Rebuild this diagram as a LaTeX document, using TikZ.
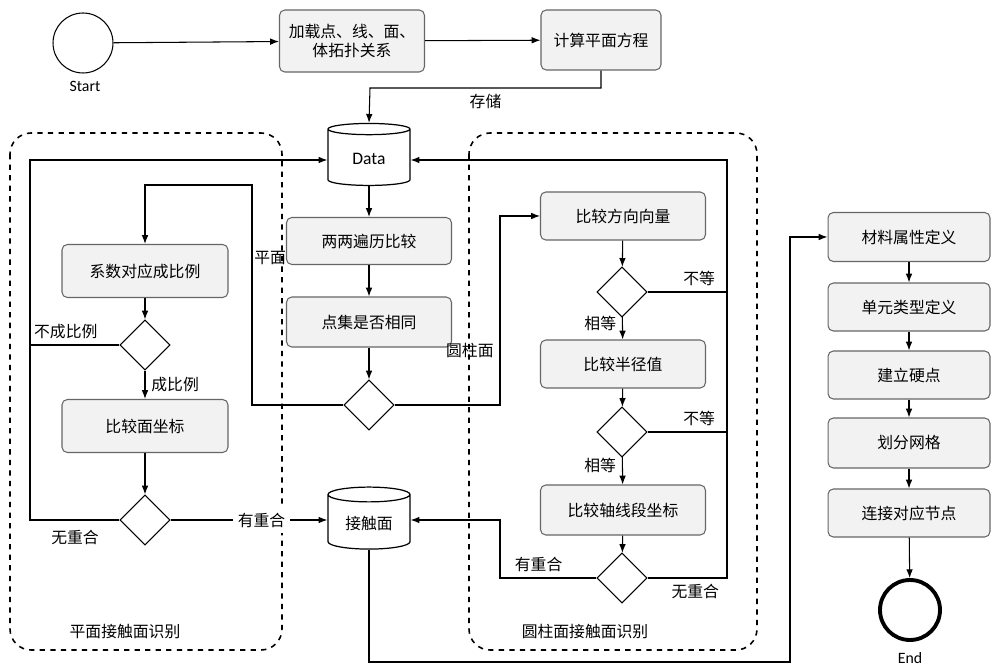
\documentclass[tikz,border=0pt]{standalone}
\usepackage{fontspec}
\setmainfont{Noto Sans CJK SC}
\newfontfamily\latinf{Carlito}
\usetikzlibrary{shapes.geometric,
                arrows.meta
                }

\begin{document}
\begin{tikzpicture}[x=0.02cm,y=-0.02cm,
    font=\fontsize{9}{11}\selectfont,
    box/.style={draw=black!60, fill=black!5, rounded corners=3pt, line width=0.6pt},
    dec/.style={draw, diamond, minimum width=1cm, minimum height=1cm, inner sep=0pt, line width=0.6pt},
    db/.style={draw, cylinder, shape border rotate=90, aspect=0.25, minimum width=1.64cm,
               minimum height=1.24cm, fill=white, line width=0.7pt},
    flow/.style={-{Latex[length=5pt]}, line width=0.6pt},
    grp/.style={draw, dashed, rounded corners=12pt, line width=0.9pt}
    ]
    \useasboundingbox (0,0) rectangle (1000,671);

    % Gruppen
    \draw[grp] (10,133) rectangle (282,650);
    \draw[grp] (469,133) rectangle (757,650);
    \node at (125,632) {平面接触面识别};
    \node at (585,632) {圆柱面接触面识别};

    % Start und Kopf
    \node[draw, circle, minimum size=1.2cm, line width=0.6pt] (start) at (83,43) {};
    \node[font=\latinf\small] at (85,86) {Start};
    \node[box, minimum width=2.9cm, minimum height=1.24cm, align=center] (load) at (352,41)
        {加载点、线、面、\\体拓扑关系};
    \node[box, minimum width=2.4cm, minimum height=1.2cm] (plane) at (601,40) {计算平面方程};

    % Datenbanken
    \node[db, font=\latinf] (data) at (369,159) {Data};
    \node[db] (contact) at (369,524) {接触面};

    % Mitte
    \node[box, minimum width=3.3cm, minimum height=0.94cm] (pair) at (369,241) {两两遍历比较};
    \node[box, minimum width=3.3cm, minimum height=1cm] (same) at (369,322) {点集是否相同};
    \node[dec] (dm) at (369,405) {};

    % links
    \node[box, minimum width=3.32cm, minimum height=1.06cm] (coef) at (145,271) {系数对应成比例};
    \node[dec] (dl1) at (145,345) {};
    \node[box, minimum width=3.32cm, minimum height=1.06cm] (face) at (145,426) {比较面坐标};
    \node[dec] (dl2) at (145,520) {};

    % rechts
    \node[box, minimum width=3.3cm, minimum height=0.96cm] (dir) at (623,216) {比较方向向量};
    \node[dec] (dr1) at (622,292) {};
    \node[box, minimum width=3.3cm, minimum height=0.96cm] (rad) at (623,364) {比较半径值};
    \node[dec] (dr2) at (622,432) {};
    \node[box, minimum width=3.3cm, minimum height=1cm] (axis) at (623,510) {比较轴线段坐标};
    \node[dec] (dr3) at (622,578) {};

    % Nachbearbeitung
    \node[box, minimum width=3.24cm, minimum height=0.98cm] (mat) at (909,237) {材料属性定义};
    \node[box, minimum width=3.24cm, minimum height=0.96cm] (elem) at (909,307) {单元类型定义};
    \node[box, minimum width=3.24cm, minimum height=0.96cm] (hard) at (909,375) {建立硬点};
    \node[box, minimum width=3.24cm, minimum height=1cm] (mesh) at (909,443) {划分网格};
    \node[box, minimum width=3.24cm, minimum height=0.96cm] (conn) at (909,513) {连接对应节点};
    \node[draw, circle, minimum size=1.2cm, line width=2.2pt] (end) at (910,610) {};
    \node[font=\latinf\small] at (910,658) {End};

    % Verbindungen
    \draw[flow] (start) -- (load);
    \draw[flow] (load) -- (plane);
    \draw[flow] (plane.south) |- node[pos=0.75, below] {存储} (370,88) -- (data.north);
    \draw[flow] (data) -- (pair);
    \draw[flow] (pair) -- (same);
    \draw[flow] (same) -- (dm);
    \draw[flow] (dm.west) -- (252,405) -- node[pos=0.67, right, inner sep=1pt] {平面} (252,185) -| (coef.north);
    \draw[flow] (coef) -- (dl1);
    \draw[flow] (dl1) -- node[right] {成比例} (face);
    \draw[flow] (face) -- (dl2);
    \draw[flow] (dl1.west) -- node[above, pos=0.6] {不成比例} (30,345) |- (data.west |- 0,160);
    \draw[line width=0.6pt] (dl2.west) -- (30,520) -- (30,345);
    \node at (75,537) {无重合};
    \draw[flow] (dl2.east) -- node[pos=0.58] {\colorbox{white}{有重合}} (contact.west |- 0,520);
    \draw[flow] (dm.east) -- (500,405) -- node[pos=0.29, left] {圆柱面} (500,216) -- (dir.west);
    \draw[flow] (dir) -- (dr1);
    \draw[flow] (dr1) -- node[pos=0.3, left] {相等} (rad);
    \draw[flow] (rad) -- (dr2);
    \draw[flow] (dr2) -- node[pos=0.3, left] {相等} (axis);
    \draw[flow] (axis) -- (dr3);
    \draw[flow] (dr1.east) -- node[above, pos=0.65] {不等} (727,292) |- (data.east |- 0,160);
    \draw[line width=0.6pt] (dr2.east) -- node[above, pos=0.65] {不等} (727,432);
    \draw[line width=0.6pt] (dr3.east) -- node[below, pos=0.6] {无重合} (727,578) -- (727,292);
    \draw[flow] (dr3.west) -- node[above, pos=0.6] {有重合} (500,578) |- (contact.east |- 0,520);
    \draw[flow] (contact.south) |- (790,662) |- (mat.west);
    \draw[flow] (mat) -- (elem);
    \draw[flow] (elem) -- (hard);
    \draw[flow] (hard) -- (mesh);
    \draw[flow] (mesh) -- (conn);
    \draw[flow] (conn) -- (end);
\end{tikzpicture}
\end{document}
